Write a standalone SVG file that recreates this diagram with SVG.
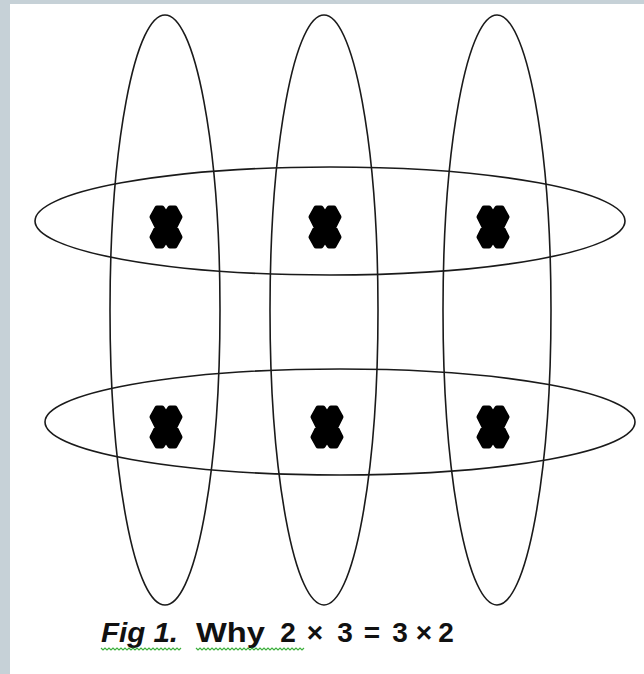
<svg xmlns="http://www.w3.org/2000/svg" width="644" height="674" viewBox="0 0 644 674">
<style>
.ring{fill:none;stroke:#1a1a1a;stroke-width:1.6}
.blob{fill:#000;stroke:#000;stroke-width:5;stroke-linejoin:round}
.cap{font-family:"Liberation Sans",Arial,sans-serif;font-weight:bold;font-size:28px;fill:#111}
.mid{text-anchor:middle}
.sq{fill:none;stroke:#3db03d;stroke-width:1.2}
</style>
<defs>
<path id="x" class="blob" d="M -9,-19 L -4,-19 L 0,-13 L 4,-19 L 9,-19 L 14,-10 L 9,0 L 14,10 L 9,19 L 4,19 L 0,13 L -4,19 L -9,19 L -14,10 L -9,0 L -14,-10 Z"/>
</defs>
<rect x="0" y="0" width="644" height="674" fill="#c6d1d7"/>
<rect x="10" y="4" width="634" height="670" fill="#fff"/>
<g id="connectors"></g>
<g id="col1"><ellipse class="ring" cx="165" cy="310" rx="55" ry="295"/></g>
<g id="col2"><ellipse class="ring" cx="324" cy="310" rx="54" ry="295"/></g>
<g id="col3"><ellipse class="ring" cx="497" cy="310" rx="54" ry="295"/></g>
<g id="row1"><ellipse class="ring" cx="330" cy="221" rx="295" ry="54"/></g>
<g id="row2"><ellipse class="ring" cx="340" cy="422" rx="295" ry="53"/></g>
<g id="marks">
<use href="#x" x="166" y="227"/>
<use href="#x" x="325" y="227"/>
<use href="#x" x="493" y="227"/>
<use href="#x" x="166" y="427"/>
<use href="#x" x="327" y="427"/>
<use href="#x" x="493" y="427"/>
</g>
<g id="caption">
<text class="cap" x="101" y="642" font-style="italic" textLength="77" lengthAdjust="spacingAndGlyphs">Fig 1.</text>
<text class="cap" x="196" y="642" textLength="69" lengthAdjust="spacingAndGlyphs">Why</text>
<text class="cap mid" y="642"><tspan x="288">2</tspan><tspan x="315">×</tspan><tspan x="345">3</tspan><tspan x="372">=</tspan><tspan x="400">3</tspan><tspan x="424">×</tspan><tspan x="446">2</tspan></text>
<path class="sq" d="M101,648 l2,2 l2,-2 l2,2 l2,-2 l2,2 l2,-2 l2,2 l2,-2 l2,2 l2,-2 l2,2 l2,-2 l2,2 l2,-2 l2,2 l2,-2 l2,2 l2,-2 l2,2 l2,-2 l2,2 l2,-2 l2,2 l2,-2 l2,2 l2,-2 l2,2 l2,-2 l2,2 l2,-2 l2,2 l2,-2 l2,2 l2,-2 l2,2 l2,-2 l2,2 l2,-2 l2,2 l2,-2"/>
<path class="sq" d="M196,648 l2,2 l2,-2 l2,2 l2,-2 l2,2 l2,-2 l2,2 l2,-2 l2,2 l2,-2 l2,2 l2,-2 l2,2 l2,-2 l2,2 l2,-2 l2,2 l2,-2 l2,2 l2,-2 l2,2 l2,-2 l2,2 l2,-2 l2,2 l2,-2 l2,2 l2,-2 l2,2 l2,-2 l2,2 l2,-2 l2,2 l2,-2 l2,2 l2,-2 l2,2 l2,-2 l2,2 l2,-2 l2,2 l2,-2 l2,2 l2,-2 l2,2 l2,-2 l2,2 l2,-2 l2,2 l2,-2 l2,2 l2,-2 l2,2 l2,-2"/>
</g>
</svg>
